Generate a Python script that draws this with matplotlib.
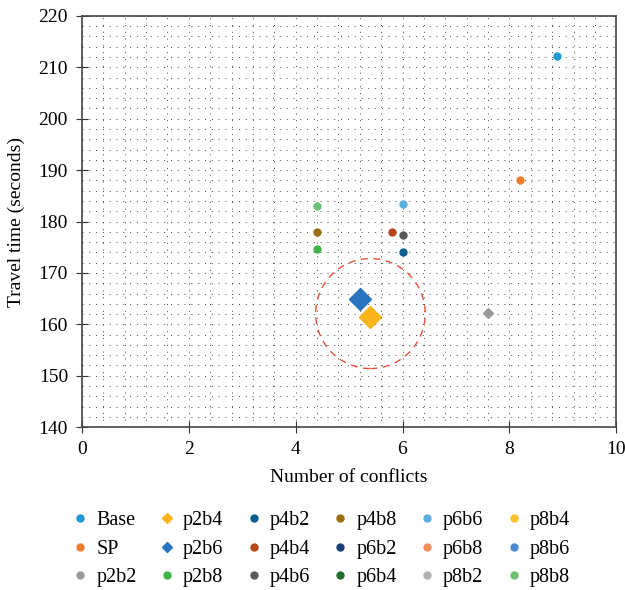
import matplotlib.pyplot as plt
from matplotlib.lines import Line2D
from matplotlib.patches import Ellipse
from matplotlib.ticker import MultipleLocator

plt.rcParams['font.family'] = ['Liberation Serif', 'DejaVu Serif']

names = ['Base', 'SP', 'p2b2', 'p2b4', 'p2b6', 'p2b8',
         'p4b2', 'p4b4', 'p4b6', 'p4b8', 'p6b2', 'p6b4',
         'p6b6', 'p6b8', 'p8b2', 'p8b4', 'p8b6', 'p8b8']
colors = ['#1f9ad6', '#f07c2c', '#9a9a9a', '#fbb41a', '#2a74bf', '#3db54a',
          '#0a5e91', '#b5461b', '#595959', '#9c6d13', '#1a3f75', '#216e2e',
          '#5aafe0', '#f58e5a', '#b0b0b0', '#fdc02f', '#4a8ad0', '#6cc070']
markers = ['o', 'o', 'D', 'D', 'D', 'o',
           'o', 'o', 'o', 'o', 'o', 'o',
           'o', 'o', 'o', 'o', 'o', 'o']
legend_markers = ['o', 'o', 'o', 'D', 'D', 'o',
                  'o', 'o', 'o', 'o', 'o', 'o',
                  'o', 'o', 'o', 'o', 'o', 'o']
sizes = [5, 5, 5, 11, 11, 5, 5, 5, 5, 5, 5, 5, 5, 5, 5, 5, 5, 5]

conflicts = {'Base': [8.9], 'SP': [8.2], 'p2b2': [7.6], 'p2b4': [5.4],
             'p2b6': [5.2], 'p2b8': [4.4], 'p4b2': [6.0], 'p4b4': [5.8],
             'p4b6': [6.0], 'p4b8': [4.4], 'p6b6': [6.0], 'p8b8': [4.4]}
travel_time = {'Base': [212.3], 'SP': [188.1], 'p2b2': [162.2], 'p2b4': [161.4],
               'p2b6': [164.9], 'p2b8': [174.7], 'p4b2': [174.0], 'p4b4': [178.0],
               'p4b6': [177.4], 'p4b8': [178.0], 'p6b6': [183.4], 'p8b8': [183.1]}

fig = plt.figure(figsize=(6.25, 5.9), dpi=100)
ax = fig.add_axes([0.131, 0.276, 0.855, 0.697])

for name, c, m, s in zip(names, colors, markers, sizes):
    if name in conflicts:
        ax.plot(conflicts[name], travel_time[name], linestyle='none', marker=m,
                markersize=s, color=c, zorder=3)

ax.add_patch(Ellipse((5.4, 162.1), 2.05, 21.4, fill=False, edgecolor='#e8503a',
                     linestyle=(0, (5, 4)), linewidth=1.0, zorder=2))

ax.set_xlim(0, 10)
ax.set_ylim(140, 220)
ax.xaxis.set_major_locator(MultipleLocator(2))
ax.xaxis.set_minor_locator(MultipleLocator(0.4))
ax.yaxis.set_major_locator(MultipleLocator(10))
ax.yaxis.set_minor_locator(MultipleLocator(2))
ax.grid(which='both', linestyle=(0, (1, 6)), color='#444444', linewidth=0.7)
ax.tick_params(which='major', direction='inout', length=8, labelsize=14,
               color='#333333', pad=6)
ax.tick_params(which='minor', length=0)
for sp in ax.spines.values():
    sp.set_color('#444444')
    sp.set_linewidth(1.2)

ax.set_xlabel('Number of conflicts', fontsize=14, labelpad=8)
ax.set_ylabel('Travel time (seconds)', fontsize=14, labelpad=10)

handles = [Line2D([], [], linestyle='none', marker=m, markersize=5, color=c)
           for m, c in zip(legend_markers, colors)]
fig.legend(handles, names, ncol=6, loc='upper center', bbox_to_anchor=(0.512, 0.147),
           frameon=False, fontsize=14.5, handletextpad=0.3, columnspacing=1.0,
           labelspacing=0.45, handlelength=1.0, borderaxespad=0)

fig.savefig('out.png', dpi=100)
